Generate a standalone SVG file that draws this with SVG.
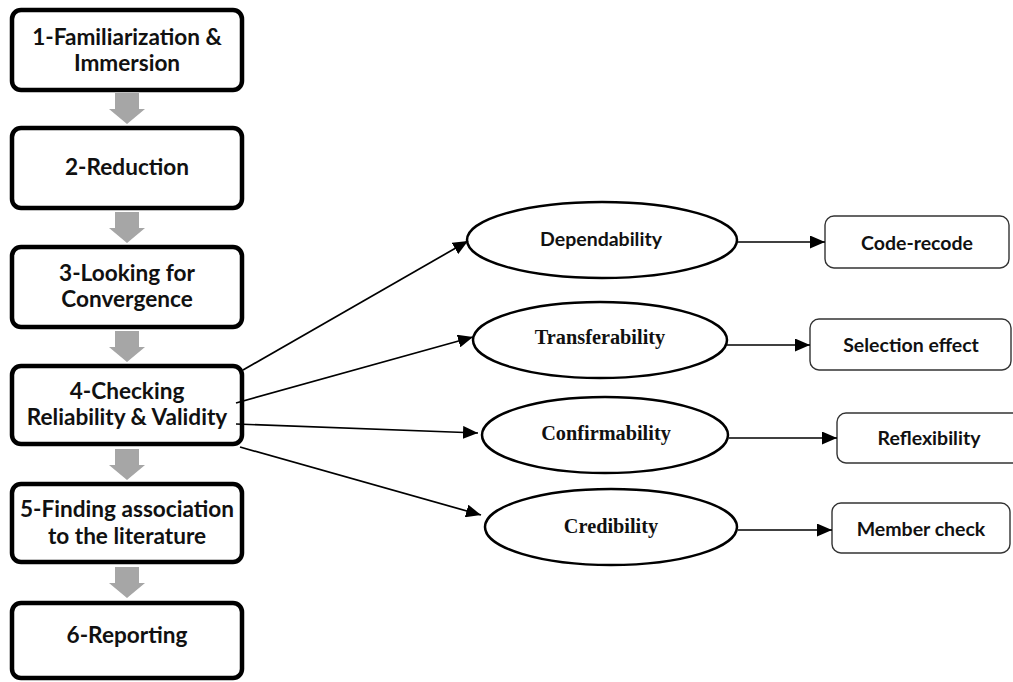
<svg xmlns="http://www.w3.org/2000/svg" width="1013" height="682" viewBox="0 0 1013 682">
  <style>
    .step rect { fill: #ffffff; stroke: #000000; stroke-width: 4.5; }
    .step text { font-family: Lato, "Open Sans", sans-serif; font-weight: 700; font-size: 22.6px; fill: #111111; text-anchor: middle; }
    .oval ellipse { fill: #ffffff; stroke: #000000; stroke-width: 2.5; }
    .sans { font-family: Lato, "Open Sans", sans-serif; font-weight: 700; font-size: 19.5px; fill: #111111; text-anchor: middle; }
    .serif { font-family: "Liberation Serif", "Times New Roman", serif; font-weight: 700; font-size: 20.3px; fill: #111111; text-anchor: middle; }
    .tech rect { fill: #ffffff; stroke: #333333; stroke-width: 1.4; }
    .tech text { font-family: Lato, "Open Sans", sans-serif; font-weight: 700; font-size: 19.5px; fill: #111111; text-anchor: middle; }
    .link { fill: none; stroke: #000000; stroke-width: 1.7; marker-end: url(#head); }
    .down { fill: #a6a6a6; }
  </style>
  <defs>
    <marker id="head" markerUnits="userSpaceOnUse" markerWidth="15" markerHeight="13" refX="15" refY="6.5" orient="auto">
      <path d="M0,0 L15,6.5 L0,13 z" fill="#000000"/>
    </marker>
    <path id="blockArrow" d="M-12,0 H12 V16 H18 L0,31 L-18,16 H-12 z"/>
  </defs>

  <rect width="1013" height="682" fill="#ffffff"/>

  <!-- process steps -->
  <g id="step1" class="step">
    <rect x="12" y="10" width="230" height="80" rx="9"/>
    <text x="127" y="45">1-Familiarization &amp;</text>
    <text x="127" y="71">Immersion</text>
  </g>
  <g id="step2" class="step">
    <rect x="12" y="128" width="230" height="80" rx="9"/>
    <text x="127" y="175">2-Reduction</text>
  </g>
  <g id="step3" class="step">
    <rect x="12" y="247" width="230" height="80" rx="9"/>
    <text x="127" y="281">3-Looking for</text>
    <text x="127" y="307">Convergence</text>
  </g>
  <g id="step4" class="step">
    <rect x="12" y="366" width="230" height="78" rx="9"/>
    <text x="127" y="399">4-Checking</text>
    <text x="127" y="425">Reliability &amp; Validity</text>
  </g>
  <g id="step5" class="step">
    <rect x="12" y="484" width="230" height="78" rx="9"/>
    <text x="127" y="517">5-Finding association</text>
    <text x="127" y="544">to the literature</text>
  </g>
  <g id="step6" class="step">
    <rect x="12" y="603" width="230" height="75" rx="9"/>
    <text x="127" y="643">6-Reporting</text>
  </g>

  <!-- criteria -->
  <g id="dependability" class="oval">
    <ellipse cx="602" cy="240" rx="135" ry="38"/>
    <text class="sans" x="601" y="246">Dependability</text>
  </g>
  <g id="transferability" class="oval">
    <ellipse cx="600" cy="340" rx="127" ry="38"/>
    <text class="serif" x="600" y="344">Transferability</text>
  </g>
  <g id="confirmability" class="oval">
    <ellipse cx="605" cy="435" rx="123" ry="38"/>
    <text class="serif" x="606" y="440">Confirmability</text>
  </g>
  <g id="credibility" class="oval">
    <ellipse cx="611" cy="527" rx="126" ry="38"/>
    <text class="serif" x="611" y="533">Credibility</text>
  </g>

  <!-- techniques -->
  <g id="code-recode" class="tech">
    <rect x="825" y="216" width="184" height="52" rx="9"/>
    <text x="917" y="250">Code-recode</text>
  </g>
  <g id="selection-effect" class="tech">
    <rect x="810" y="319" width="201" height="51" rx="9"/>
    <text x="911" y="352">Selection effect</text>
  </g>
  <g id="reflexibility" class="tech">
    <rect x="837" y="413" width="190" height="50" rx="9"/>
    <text x="929" y="445">Reflexibility</text>
  </g>
  <g id="member-check" class="tech">
    <rect x="832" y="503" width="178" height="50" rx="9"/>
    <text x="921" y="536">Member check</text>
  </g>

  <!-- connectors -->
  <g id="connectors">
    <use href="#blockArrow" class="down" x="127" y="93"/>
    <use href="#blockArrow" class="down" x="127" y="212"/>
    <use href="#blockArrow" class="down" x="127" y="331"/>
    <use href="#blockArrow" class="down" x="127" y="449"/>
    <use href="#blockArrow" class="down" x="127" y="567"/>

    <line class="link" x1="243" y1="370" x2="468" y2="241"/>
    <line class="link" x1="236" y1="403" x2="473" y2="337"/>
    <line class="link" x1="236" y1="424" x2="478" y2="433"/>
    <line class="link" x1="240" y1="447" x2="481" y2="515"/>

    <line class="link" x1="737" y1="242" x2="825" y2="242"/>
    <line class="link" x1="727" y1="345" x2="810" y2="345"/>
    <line class="link" x1="729" y1="438" x2="837" y2="438"/>
    <line class="link" x1="738" y1="530" x2="832" y2="530"/>
  </g>
</svg>
